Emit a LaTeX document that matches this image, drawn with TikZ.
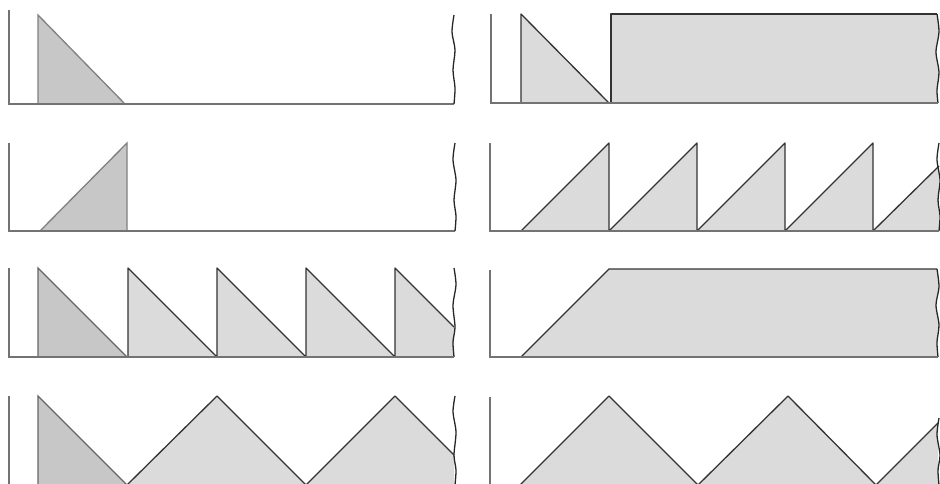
\documentclass[tikz,border=0pt]{standalone}
\begin{document}
\begin{tikzpicture}[x=1pt,y=-1pt,
  axisline/.style={draw=black!55,line width=1.3pt},
  outl/.style={draw=black!80,line width=1.3pt,line join=round},
  shade/.style={fill=black!14},
  shadedark/.style={fill=black!22},
  brk/.style={draw=black!85,line width=1.3pt}]
\useasboundingbox (0,0) rectangle (940,483);
% ---------- Row 1 left
\filldraw[shadedark,draw=black!50,line width=1.3pt] (38,15) -- (125,104) -- (38,104) -- cycle;
\draw[axisline] (9,10) -- (9,104) -- (454,104);
\draw[brk] plot[smooth] coordinates {(454,15) (452,32) (455,50) (453,70) (455,88) (454,104)};
% ---------- Row 1 right
\filldraw[shade,outl] (521,14) -- (609,103) -- (521,103) -- cycle;
\fill[shade] (611,14) -- plot[smooth] coordinates {(937,14) (939,32) (936,52) (939,72) (937,90) (938,103)} -- (611,103) -- cycle;
\draw[outl] (611,103) -- (611,14) -- (937,14);
\draw[brk] plot[smooth] coordinates {(937,14) (939,32) (936,52) (939,72) (937,90) (938,103)};
\draw[axisline] (491,14) -- (491,103) -- (938,103);
% ---------- Row 2 left
\filldraw[shadedark,draw=black!50,line width=1.3pt] (40,231) -- (127,143) -- (127,231) -- cycle;
\draw[axisline] (9,143) -- (9,231) -- (455,231);
\draw[brk] plot[smooth] coordinates {(455,143) (453,160) (456,180) (454,200) (456,216) (455,231)};
% ---------- Row 2 right
\fill[shade] (521,231) -- (609,143) -- (609,231) -- (697,143) -- (697,231) -- (785,143) -- (785,231) -- (873,143) -- (873,231) -- (939,166) -- (939,231) -- cycle;
\draw[outl] (521,231) -- (609,143) -- (609,231) -- (697,143) -- (697,231) -- (785,143) -- (785,231) -- (873,143) -- (873,231) -- (939,166);
\draw[brk] plot[smooth] coordinates {(939,143) (937,160) (940,180) (938,200) (940,216) (939,231)};
\draw[axisline] (490,143) -- (490,231) -- (939,231);
% ---------- Row 3 left
\filldraw[shadedark,draw=black!60,line width=1.3pt] (38,268) -- (127,357) -- (38,357) -- cycle;
\fill[shade] (128,268) -- (217,357) -- (217,268) -- (306,357) -- (306,268) -- (395,357) -- (395,268) -- (454,327) -- (454,357) -- (128,357) -- cycle;
\draw[outl] (128,357) -- (128,268) -- (217,357) -- (217,268) -- (306,357) -- (306,268) -- (395,357) -- (395,268) -- (454,327);
\draw[brk] plot[smooth] coordinates {(454,268) (456,285) (453,305) (455,327) (453,342) (454,357)};
\draw[axisline] (9,268) -- (9,357) -- (454,357);
% ---------- Row 3 right
\fill[shade] (521,357) -- (609,269) -- plot[smooth] coordinates {(937,269) (939,287) (936,305) (939,325) (937,342) (938,357)} -- cycle;
\draw[outl] (521,357) -- (609,269) -- (937,269);
\draw[brk] plot[smooth] coordinates {(937,269) (939,287) (936,305) (939,325) (937,342) (938,357)};
\draw[axisline] (490,270) -- (490,357) -- (938,357);
% ---------- Row 4 left
\filldraw[shadedark,draw=black!60,line width=1.3pt] (38,396) -- (127,485) -- (38,485) -- cycle;
\fill[shade] (127,485) -- (217,396) -- (306,485) -- (395,396) -- (454,455) -- (454,485) -- cycle;
\draw[outl] (127,485) -- (217,396) -- (306,485) -- (395,396) -- (454,455);
\draw[brk] plot[smooth] coordinates {(455,396) (453,412) (456,432) (454,455) (456,470) (455,485)};
\draw[axisline] (9,396) -- (9,485);
% ---------- Row 4 right
\fill[shade] (520,485) -- (609,396) -- (698,485) -- (788,396) -- (876,485) -- (938,423) -- (938,485) -- cycle;
\draw[outl] (520,485) -- (609,396) -- (698,485) -- (788,396) -- (876,485) -- (938,423);
\draw[brk] plot[smooth] coordinates {(939,418) (937,435) (940,455) (938,470) (939,485)};
\draw[axisline] (490,397) -- (490,485);
\end{tikzpicture}
\end{document}
